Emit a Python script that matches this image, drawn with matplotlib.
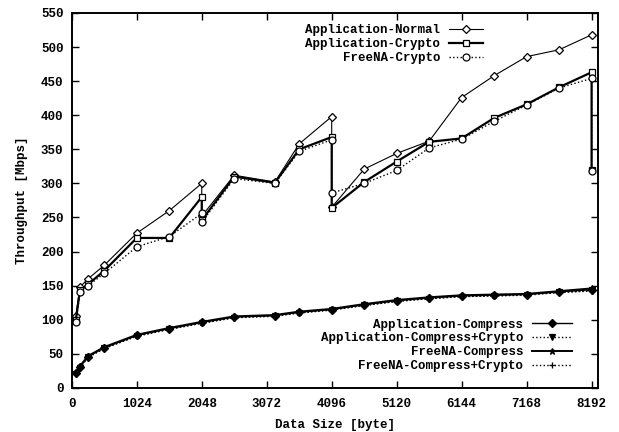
import matplotlib
matplotlib.use("Agg")
import matplotlib.pyplot as plt

# Data sizes (bytes); repeated sizes mark the drops at 2048, 4096 and 8192
sizes_up = [64, 128, 256, 512, 1024, 1536, 2048, 2048, 2560, 3200, 3584, 4096, 4096,
            4608, 5120, 5632, 6144, 6656, 7168, 7680, 8192, 8192]
sizes_low = [64, 128, 256, 512, 1024, 1536, 2048, 2560, 3200, 3584, 4096,
             4608, 5120, 5632, 6144, 6656, 7168, 7680, 8192]

# Throughput [Mbps]
app_normal = [106, 148, 160, 180, 227, 260, 300, 252, 312, 302, 358, 398, 265,
              321, 344, 362, 426, 458, 486, 496, 518]
app_crypto = [100, 143, 152, 172, 220, 220, 280, 246, 310, 301, 350, 368, 264,
              302, 332, 361, 366, 396, 416, 441, 463, 320]
freena_crypto = [96, 140, 150, 168, 207, 222, 256, 243, 307, 300, 347, 364, 286,
                 300, 319, 352, 365, 391, 415, 440, 454, 318]

app_compress = [22, 31, 46, 59, 77, 87, 96, 104, 106, 111, 115,
                122, 128, 132, 135, 136, 137, 141, 144]
app_compress_crypto = [20, 29, 45, 58, 76, 86, 95, 103, 105, 110, 114,
                       121, 127, 131, 134, 135, 136, 140, 142]
freena_compress = [23, 32, 47, 60, 78, 88, 97, 105, 107, 112, 116,
                   123, 129, 133, 136, 137, 138, 142, 146]
freena_compress_crypto = [21, 30, 45, 58, 76, 86, 95, 103, 106, 110, 115,
                          121, 127, 131, 134, 135, 137, 140, 143]

xticks = [0, 1024, 2048, 3072, 4096, 5120, 6144, 7168, 8192]
yticks = list(range(0, 551, 50))

plt.rcParams["font.family"] = ["Liberation Mono", "DejaVu Sans Mono"]
plt.rcParams["font.size"] = 9
plt.rcParams["font.weight"] = "bold"
plt.rcParams["axes.labelweight"] = "bold"

fig = plt.figure(figsize=(6.19, 4.32), dpi=100)
ax = fig.add_axes([0.116, 0.102, 0.850, 0.868])

k = dict(color="black", markersize=5, markeredgewidth=0.9)
l1, = ax.plot(sizes_up[:-1], app_normal, "-", marker="D", mfc="white", lw=0.8,
              label="Application-Normal", markersize=4, color="black", markeredgewidth=0.9)
l2, = ax.plot(sizes_up, app_crypto, "-", marker="s", mfc="white", lw=1.6,
              label="Application-Crypto", **k)
l3, = ax.plot(sizes_up, freena_crypto, ":", marker="o", mfc="white", lw=1.0,
              label="FreeNA-Crypto", **k)

l4, = ax.plot(sizes_low, app_compress, "-", marker="D", lw=1.0,
              label="Application-Compress", markersize=4, color="black")
l5, = ax.plot(sizes_low, app_compress_crypto, ":", marker="v", lw=1.0,
              label="Application-Compress+Crypto", **k)
l6, = ax.plot(sizes_low, freena_compress, "-", marker="*", lw=1.4,
              label="FreeNA-Compress", **k)
l7, = ax.plot(sizes_low, freena_compress_crypto, ":", marker="+", lw=1.0,
              label="FreeNA-Compress+Crypto", **k)

ax.set_xlim(0, 8292)
ax.set_ylim(0, 550)
ax.set_xticks(xticks)
ax.set_yticks(yticks)
ax.tick_params(direction="in", length=5, width=1, top=True, right=True,
               labelsize=9)
ax.tick_params(axis="x", pad=7)
ax.tick_params(axis="y", pad=6)
for s in ax.spines.values():
    s.set_linewidth(1.4)

ax.set_xlabel("Data Size [byte]", fontsize=9, labelpad=7)
ax.set_ylabel("Throughput [Mbps]", fontsize=9, labelpad=9)

leg1 = ax.legend(handles=[l1, l2, l3], loc="upper right", bbox_to_anchor=(0.781, 0.97),
                 frameon=False, markerfirst=False, handlelength=2.7,
                 handletextpad=0.7, labelspacing=0.15, borderpad=0, borderaxespad=0,
                 fontsize=9)
ax.add_artist(leg1)
ax.legend(handles=[l4, l5, l6, l7], loc="upper right", bbox_to_anchor=(0.951, 0.185),
          frameon=False, markerfirst=False, handlelength=3.2,
          handletextpad=0.7, labelspacing=0.15, borderpad=0, borderaxespad=0,
          fontsize=9)

fig.savefig("out.png", dpi=100)
